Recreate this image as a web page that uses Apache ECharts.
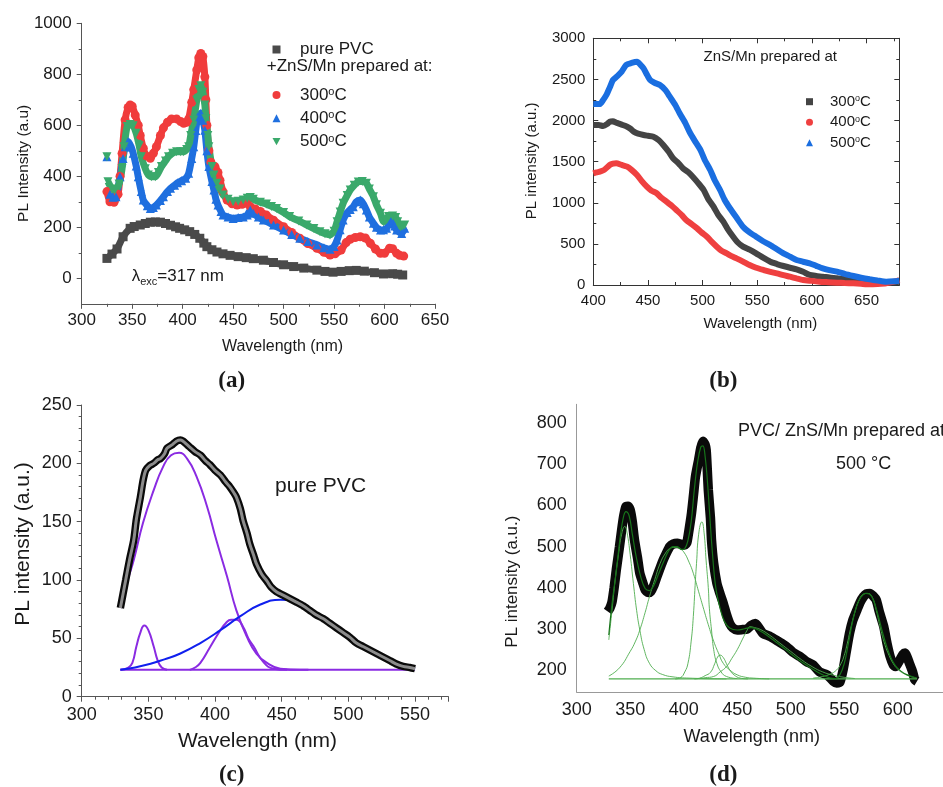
<!DOCTYPE html>
<html>
<head>
<meta charset="utf-8">
<script src="https://cdn.jsdelivr.net/npm/echarts@6/dist/echarts.min.js"></script>
<style>
  html, body { margin: 0; padding: 0; background: #ffffff; }
  #chart { width: 943px; height: 787px; }
</style>
</head>
<body>
<div id="chart"></div>
<script>
// ---------- (a) PL spectra, λexc = 317 nm: [wavelength nm, intensity] ----------
const aPurePVC = [[325,78],[330,95],[335,115],[341,163],[348,196],[352,203],[358,209],[363,215],[368,220],[373,221],[378,220],[383,215],[388,208],[393,202],[397,196],[402,190],[407,183],[412,172],[417,157],[421,138],[424,124],[429,112],[434,103],[440,96],[447,90],[455,85],[463,81],[470,77],[480,71],[490,62],[500,53],[510,46],[520,40],[533,32],[541,27],[549,24],[557,27],[565,30],[572,31],[580,28],[590,22],[599,17],[608,18],[613,16],[618,13]];
const a300 = [[325,340],[328,300],[332,298],[336,330],[338,400],[340,490],[343,621],[346,670],[348,680],[350,675],[353,640],[356,600],[358,560],[361,510],[364,480],[368,471],[371,490],[374,516],[378,560],[381,590],[385,612],[389,625],[394,625],[398,615],[401,608],[404,612],[406,625],[409,690],[411,740],[414,817],[416,865],[418,882],[420,870],[422,790],[423,700],[424,600],[426,500],[428,455],[432,438],[435,415],[437,385],[440,340],[444,307],[449,292],[454,287],[459,290],[464,294],[467,281],[472,272],[477,262],[483,248],[490,228],[500,202],[508,180],[516,157],[524,136],[533,118],[540,102],[546,91],[551,96],[557,111],[562,140],[566,153],[571,160],[576,163],[581,158],[586,137],[591,115],[596,98],[600,98],[605,118],[608,116],[612,98],[615,90],[619,87]];
const a400 = [[325,477],[325.5,'-'],[328,330],[331,318],[334,320],[338,398],[341,470],[343,516],[346,536],[349,515],[351,490],[354,440],[356,398],[359,340],[361,307],[365,285],[368,274],[371,278],[374,287],[378,305],[381,320],[385,340],[388,353],[392,365],[395,375],[399,383],[403,392],[406,412],[409,470],[411,516],[413,580],[415,634],[418,647],[420,620],[422,581],[424,500],[426,438],[429,380],[431,346],[433,310],[435,287],[438,262],[440,248],[445,240],[450,235],[455,238],[460,240],[464,248],[467,268],[470,255],[475,240],[480,229],[490,209],[500,189],[508,172],[516,157],[524,144],[533,131],[540,120],[546,114],[550,125],[553,150],[556,190],[559,229],[563,258],[566,270],[569,281],[572,300],[576,307],[579,292],[582,268],[585,240],[589,216],[592,200],[596,189],[599,190],[602,196],[605,215],[607,229],[610,205],[612,189],[617,176],[620,196]];
const a500 = [[325,477],[325.5,'-'],[326,379],[330,350],[333,346],[337,370],[340,430],[342,516],[345,595],[348,603],[351,598],[354,569],[357,520],[359,477],[363,430],[366,405],[369,398],[373,398],[376,415],[379,438],[383,460],[386,477],[390,490],[394,496],[398,496],[401,496],[404,505],[406,516],[408,560],[411,621],[414,699],[416,740],[418,755],[420,730],[422,680],[423,626],[425,560],[426,516],[429,438],[431,405],[434,373],[437,350],[440,327],[445,310],[450,300],[455,302],[460,307],[464,314],[467,317],[470,310],[477,298],[483,291],[488,282],[493,274],[500,258],[506,242],[515,225],[523,209],[530,195],[536,183],[541,175],[546,170],[550,185],[553,222],[556,260],[559,294],[563,325],[566,346],[570,365],[574,378],[578,380],[582,373],[585,350],[589,320],[592,288],[596,255],[599,222],[601,228],[604,242],[608,244],[611,238],[613,222],[616,202],[618,205],[620,209]];
const aTemps = ['300', '400', '500'];
const aYTicks = [0, 200, 400, 600, 800, 1000];
const aYMinorTicks = [100, 300, 500, 700, 900];

// ---------- (b) ZnS/Mn powders ----------
const b300 = [[400,1946],[405,1945],[409,1934],[413,1960],[415,1986],[418,1990],[421,1974],[426,1950],[431,1925],[434,1900],[437,1865],[441,1840],[446,1824],[450,1815],[455,1804],[460,1760],[464,1703],[469,1620],[473,1541],[478,1480],[482,1419],[487,1370],[491,1317],[496,1240],[501,1155],[505,1050],[510,952],[514,860],[519,770],[523,680],[528,587],[532,520],[537,466],[543,430],[549,385],[555,335],[562,283],[568,255],[574,231],[580,210],[586,191],[592,160],[598,122],[604,110],[610,101],[616,90],[623,81],[630,70],[638,61],[645,50],[653,40],[660,34],[668,28],[675,32],[680,40]];
const b400 = [[400,1358],[403,1370],[406,1378],[410,1400],[415,1459],[418,1475],[421,1480],[426,1460],[431,1439],[435,1400],[440,1338],[444,1270],[449,1196],[453,1150],[458,1115],[462,1065],[467,1013],[472,960],[476,912],[481,850],[485,790],[490,740],[495,689],[499,640],[504,587],[508,530],[513,466],[517,420],[522,385],[526,355],[531,324],[537,285],[543,243],[549,210],[556,182],[562,160],[568,142],[574,120],[580,101],[586,80],[592,61],[600,50],[607,40],[615,34],[623,28],[630,24],[638,20],[645,14],[653,8],[660,12],[668,20],[675,40],[680,61]];
const b500 = [[400,2201],[403,2200],[406,2201],[409,2250],[412,2311],[415,2400],[418,2493],[422,2540],[426,2594],[430,2675],[435,2700],[440,2715],[443,2680],[446,2635],[449,2560],[452,2493],[456,2460],[461,2432],[466,2370],[470,2290],[475,2190],[479,2088],[484,1975],[488,1864],[493,1750],[498,1642],[502,1520],[507,1399],[511,1277],[516,1155],[520,1040],[525,933],[531,820],[537,709],[543,640],[549,587],[555,535],[562,486],[568,435],[574,385],[580,345],[586,304],[592,283],[598,264],[604,233],[610,203],[616,180],[623,162],[630,135],[638,109],[645,88],[653,69],[660,55],[668,40],[675,45],[680,52]];
const bTemps = ['300', '400', '500'];

// ---------- (c) pure PVC with Gaussian components ----------
const cPVC = [[329,76],[331,88],[333,100],[336,118],[339,134],[341,152],[344,171],[346,185],[348,194],[351,198],[354,200],[357,203],[359,204],[362,208],[364,213],[368,216],[371,219],[374,220],[376,219],[379,216],[381,214],[385,210],[389,207],[393,202],[396,199],[400,194],[404,190],[408,184],[411,180],[414,175],[416,171],[419,161],[421,151],[424,140],[426,131],[429,121],[431,114],[435,105],[439,99],[442,94],[446,90],[451,87],[456,84],[461,81],[466,78],[471,74],[476,70],[481,67],[486,63],[491,59],[496,55],[501,51],[506,46],[511,43],[516,40],[521,37],[526,34],[531,31],[536,28],[541,26],[546,25],[550,24]];
const cPeak347 = [[329,23],[335,25],[338,29],[341,43],[344,55],[347,61],[350,57],[354,43],[357,31],[360,25],[364,23]];
const cPeak373 = [[329,76],[334,98],[339,117],[346,149],[354,177],[361,197],[367,207],[373,209],[379,204],[386,189],[394,163],[401,134],[409,103],[416,74],[424,51],[431,37],[439,29],[449,24],[464,23],[470,23]];
const cPeak412 = [[381,23],[385,25],[389,29],[396,42],[404,57],[408,63],[412,66],[416,66],[421,60],[425,50],[429,43],[436,30],[444,24],[454,23]];
const cPeak450 = [[329,23],[340,25],[351,28],[362,32],[374,37],[389,46],[404,57],[419,69],[434,79],[449,83],[464,80],[476,71],[490,60],[505,47],[520,37],[535,29],[550,24]];
const cBase = [[329,23],[550,23]];

// ---------- (d) PVC / ZnS:Mn (500 °C) with fitted components ----------
const dData = [[329,342],[331,350],[333,365],[335,400],[337,443],[340,500],[342,540],[344,575],[346,597],[348,598],[350,589],[352,560],[354,516],[357,470],[359,435],[362,410],[364,395],[367,388],[369,390],[372,405],[375,427],[378,448],[381,468],[384,485],[387,500],[390,506],[394,508],[398,505],[401,504],[403,510],[404,524],[407,575],[409,621],[411,670],[414,711],[416,740],[418,756],[420,748],[421,735],[422,690],[423,638],[425,570],[426,516],[428,460],[431,411],[434,385],[437,362],[440,335],[443,313],[446,302],[450,297],[455,298],[459,299],[463,308],[467,313],[471,300],[474,289],[481,281],[488,270],[496,257],[502,243],[509,232],[515,220],[521,212],[527,195],[534,188],[540,172],[543,168],[546,170],[549,200],[552,245],[555,289],[558,320],[562,346],[565,365],[568,378],[571,385],[574,386],[577,380],[580,370],[583,340],[587,305],[590,265],[593,232],[596,212],[598,208],[600,215],[602,224],[605,238],[607,241],[609,230],[611,216],[614,195],[616,176],[618,172]];
const dFit = [[330,285],[333,360],[337,440],[341,530],[344,575],[346,585],[349,575],[352,530],[356,470],[360,425],[364,398],[368,393],[372,405],[376,430],[381,462],[386,490],[390,500],[394,500],[398,493],[401,495],[404,515],[407,560],[410,640],[413,705],[416,742],[418,745],[420,720],[422,665],[424,590],[427,480],[430,400],[434,350],[438,318],[443,302],[450,297],[457,300],[463,303],[470,297],[480,280],[495,250],[510,220],[525,195],[537,180],[542,179],[546,188],[550,215],[554,265],[558,320],[562,358],[566,378],[570,386],[574,384],[578,365],[582,330],[586,290],[590,255],[594,228],[598,210],[603,197],[609,188],[617,181]];
const dPeak345 = [[330,273],[333,345],[336,420],[339,480],[342,530],[345,549],[347,535],[350,480],[353,410],[356,345],[359,297],[363,250],[368,216],[374,198],[380,189],[390,183],[405,180],[440,178]];
const dPeak390 = [[330,185],[340,205],[350,245],[355,270],[359,297],[364,340],[368,378],[373,420],[378,459],[383,484],[387,495],[392,498],[396,495],[400,487],[405,462],[409,435],[414,390],[418,354],[423,310],[428,270],[433,238],[437,216],[443,200],[450,188],[458,182],[465,180],[480,178]];
const dPeak417 = [[392,178],[397,181],[401,195],[404,216],[407,270],[409,330],[411,420],[412,459],[414,530],[417,560],[419,535],[421,465],[423,400],[424,350],[426,297],[428,250],[431,216],[435,195],[440,184],[450,179]];
const dPeak433 = [[410,178],[415,180],[420,186],[425,194],[429,215],[431,228],[434,236],[437,230],[440,215],[443,200],[447,188],[453,180],[460,178]];
const dPeak465 = [[415,179],[420,181],[428,184],[434,195],[440,208],[445,228],[450,249],[455,275],[459,295],[462,305],[466,303],[472,298],[480,285],[490,265],[500,245],[510,225],[520,208],[530,195],[540,187],[550,182],[560,179]];
const dPeak573 = [[521,180],[530,184],[537,190],[543,200],[547,215],[550,235],[553,265],[556,300],[560,340],[564,370],[568,384],[572,386],[576,378],[580,345],[584,300],[588,262],[592,235],[596,215],[600,202],[605,192],[612,184],[618,180]];
const dBase = [[330,178],[618,178]];
const dXTicks = [300, 350, 400, 450, 500, 550, 600];
const dYTicks = [200, 300, 400, 500, 600, 700, 800];

// ---------- styling ----------
const SANS = '"Liberation Sans", Arial, sans-serif';
const SERIF = '"Liberation Serif", "Times New Roman", serif';
const INK = '#1a1a1a';
const COL = {
  aGray: '#4a4a4a', aRed: '#f03c3c', aBlue: '#1f6fdf', aGreen: '#3aa96b',
  bGray: '#444444', bRed: '#ef4040', bBlue: '#1a6ee0',
  cBlack: '#0a0a0a', cFit: '#8c8c8c', cViolet: '#8a2be2', cBlue: '#1020ee',
  dBlack: '#0a0a0a', dFit: '#17731a', dComp: '#4fae4f'
};
const DOWN_TRIANGLE = 'path://M0,0L10,0L5,9Z';
const plain = v => String(v);

function line(name, data, xi, yi, color, width, extra) {
  return Object.assign({
    type: 'line', name: name, data: data, xAxisIndex: xi, yAxisIndex: yi,
    showSymbol: false, symbol: 'none', silent: true, smooth: 0.3,
    lineStyle: { color: color, width: width }, itemStyle: { color: color },
    emphasis: { disabled: true }
  }, extra || {});
}
function markerLine(name, data, color, symbol) {
  return line(name, data, 0, 0, color, 7, {
    showSymbol: true, symbol: symbol, symbolSize: 9, smooth: 0.2
  });
}

function axisBase(color) {
  return {
    type: 'value', splitLine: { show: false },
    axisLine: { show: true, onZero: false, lineStyle: { color: color, width: 1 } },
    axisTick: { show: true, length: 5, lineStyle: { color: color } },
    axisLabel: { color: INK, fontFamily: SANS, formatter: plain }
  };
}
function merge(a, b) {
  const out = Object.assign({}, a);
  for (const k in b) {
    if (b[k] && typeof b[k] === 'object' && !Array.isArray(b[k]) && a[k] && typeof a[k] === 'object') {
      out[k] = merge(a[k], b[k]);
    } else out[k] = b[k];
  }
  return out;
}

function text(x, y, str, size, opt) {
  opt = opt || {};
  const align = opt.align || 'center';
  return {
    type: 'text', x: x, y: y, rotation: opt.rot || 0, silent: true,
    style: {
      text: str, fontSize: size, fontFamily: opt.family || SANS,
      fontWeight: opt.weight || 'normal', fill: INK,
      align: align, textAlign: align, verticalAlign: 'middle', textVerticalAlign: 'middle',
      rich: opt.rich
    }
  };
}

function legendRich(size, lead) {
  return {
    f: { fontSize: size, lineHeight: size, fontFamily: SANS, color: INK, padding: [0, 0, 0, lead], verticalAlign: 'bottom' },
    t: { fontSize: size, lineHeight: size, fontFamily: SANS, color: INK, verticalAlign: 'bottom' },
    s: { fontSize: Math.round(size * 0.62), lineHeight: Math.round(size * 0.62), fontFamily: SANS, color: INK, verticalAlign: 'top' }
  };
}
const degreeLabel = t => '{f|' + t + '}{s|o}{t|C}';

const chart = echarts.init(document.getElementById('chart'), null, { renderer: 'canvas' });

const grids = [
  { left: 81.7, top: 23.3, width: 353.3, height: 280.5, outerBoundsMode: 'none', containLabel: false },
  { left: 593.3, top: 38.3, width: 306, height: 246.7, outerBoundsMode: 'none', containLabel: false },
  { left: 81.7, top: 405, width: 366.7, height: 291.7, outerBoundsMode: 'none', containLabel: false },
  { left: 576.7, top: 404.3, width: 365.9, height: 287.8, outerBoundsMode: 'none', containLabel: false }
];

const xAxes = [
  // (a)
  merge(axisBase('#555'), {
    gridIndex: 0, min: 300, max: 650, interval: 50,
    minorTick: { show: true, splitNumber: 2, length: 3, lineStyle: { color: '#555' } },
    axisLabel: { fontSize: 17, margin: 8 }
  }),
  // (b) bottom
  merge(axisBase('#333'), {
    gridIndex: 1, min: 400, max: 680, interval: 50,
    axisTick: { inside: true, length: 5 },
    minorTick: { show: true, splitNumber: 2, length: 3, lineStyle: { color: '#333' } },
    axisLabel: { fontSize: 15, margin: 8, showMaxLabel: false }
  }),
  // (b) top frame
  merge(axisBase('#333'), {
    gridIndex: 1, position: 'top', min: 400, max: 680, interval: 50,
    axisTick: { inside: true, length: 5 },
    minorTick: { show: true, splitNumber: 2, length: 3, lineStyle: { color: '#333' } },
    axisLabel: { show: false }
  }),
  // (c)
  merge(axisBase('#555'), {
    gridIndex: 2, min: 300, max: 575, interval: 50,
    minorTick: { show: true, splitNumber: 5, length: 3, lineStyle: { color: '#555' } },
    axisLabel: { fontSize: 18, margin: 9, showMaxLabel: false }
  }),
  // (d)
  merge(axisBase('#999'), {
    gridIndex: 3, min: 300, max: 642, interval: 50,
    axisTick: { show: false },
    axisLabel: { fontSize: 18, margin: 9, customValues: dXTicks }
  })
];

const yAxes = [
  // (a) main
  merge(axisBase('#555'), {
    gridIndex: 0, position: 'left', min: -100, max: 1000, interval: 100,
    axisTick: { customValues: aYTicks },
    axisLabel: { fontSize: 17, margin: 10, customValues: aYTicks }
  }),
  // (a) minor ticks
  merge(axisBase('#555'), {
    gridIndex: 0, position: 'left', offset: 0, min: -100, max: 1000, interval: 100,
    axisLine: { show: false },
    axisTick: { customValues: aYMinorTicks, length: 3 },
    axisLabel: { show: false }
  }),
  // (b) left
  merge(axisBase('#333'), {
    gridIndex: 1, position: 'left', min: 0, max: 3000, interval: 500,
    axisTick: { inside: true, length: 5 },
    minorTick: { show: true, splitNumber: 2, length: 3, lineStyle: { color: '#333' } },
    axisLabel: { fontSize: 15, margin: 8 }
  }),
  // (b) right frame
  merge(axisBase('#333'), {
    gridIndex: 1, position: 'right', min: 0, max: 3000, interval: 500,
    axisTick: { inside: true, length: 5 },
    minorTick: { show: true, splitNumber: 2, length: 3, lineStyle: { color: '#333' } },
    axisLabel: { show: false }
  }),
  // (c)
  merge(axisBase('#555'), {
    gridIndex: 2, position: 'left', min: 0, max: 250, interval: 50,
    minorTick: { show: true, splitNumber: 5, length: 3, lineStyle: { color: '#555' } },
    axisLabel: { fontSize: 18, margin: 10 }
  }),
  // (d)
  merge(axisBase('#999'), {
    gridIndex: 3, position: 'left', min: 146, max: 846, interval: 100,
    axisTick: { show: false },
    axisLabel: { fontSize: 18, margin: 10, customValues: dYTicks }
  })
];

const series = [
  // (a)
  markerLine('pure PVC', aPurePVC, COL.aGray, 'rect'),
  markerLine('a300', a300, COL.aRed, 'circle'),
  markerLine('a400', a400, COL.aBlue, 'triangle'),
  markerLine('a500', a500, COL.aGreen, DOWN_TRIANGLE),
  // (b)
  line('b300', b300, 1, 2, COL.bGray, 6, { smooth: 0.2 }),
  line('b400', b400, 1, 2, COL.bRed, 6, { smooth: 0.2 }),
  line('b500', b500, 1, 2, COL.bBlue, 6, { smooth: 0.2 }),
  // (c) components beneath, then measured band and fit
  line('c-base', cBase, 3, 4, COL.cViolet, 2, { smooth: false }),
  line('c-347', cPeak347, 3, 4, COL.cViolet, 2, { smooth: 0.5 }),
  line('c-373', cPeak373, 3, 4, COL.cViolet, 2, { smooth: 0.5 }),
  line('c-412', cPeak412, 3, 4, COL.cViolet, 2, { smooth: 0.5 }),
  line('c-450', cPeak450, 3, 4, COL.cBlue, 2, { smooth: 0.5 }),
  line('c-data', cPVC, 3, 4, COL.cBlack, 7.5, { smooth: 0.2 }),
  line('c-fit', cPVC, 3, 4, COL.cFit, 3, { smooth: 0.4 }),
  // (d) measured band, then fit and components on top
  line('d-data', dData, 4, 5, COL.dBlack, 9.5, { smooth: 0.2 }),
  line('d-base', dBase, 4, 5, COL.dComp, 1.2, { smooth: false }),
  line('d-345', dPeak345, 4, 5, COL.dComp, 0.9, { smooth: 0.5 }),
  line('d-390', dPeak390, 4, 5, COL.dComp, 0.9, { smooth: 0.5 }),
  line('d-417', dPeak417, 4, 5, COL.dComp, 0.9, { smooth: 0.5 }),
  line('d-433', dPeak433, 4, 5, COL.dComp, 0.9, { smooth: 0.5 }),
  line('d-465', dPeak465, 4, 5, COL.dComp, 0.9, { smooth: 0.5 }),
  line('d-573', dPeak573, 4, 5, COL.dComp, 0.9, { smooth: 0.5 }),
  line('d-fit', dFit, 4, 5, COL.dFit, 1.2, { smooth: 0.4 })
];

const legends = [
  {
    data: [{ name: 'pure PVC', icon: 'rect' }],
    left: 267.5, top: 36, orient: 'vertical', itemWidth: 8, itemHeight: 8,
    selectedMode: false, formatter: n => '{f|' + n + '}',
    textStyle: { rich: legendRich(17, 14.5) }
  },
  {
    data: [
      { name: 'a300', icon: 'circle' },
      { name: 'a400', icon: 'triangle' },
      { name: 'a500', icon: DOWN_TRIANGLE }
    ],
    left: 267.5, top: 81.5, orient: 'vertical', itemWidth: 8, itemHeight: 8, itemGap: 6.3,
    selectedMode: false, formatter: n => degreeLabel(aTemps[['a300', 'a400', 'a500'].indexOf(n)]),
    textStyle: { rich: legendRich(17, 14.5) }
  },
  {
    data: [
      { name: 'b300', icon: 'rect' },
      { name: 'b400', icon: 'circle' },
      { name: 'b500', icon: 'triangle' }
    ],
    left: 801, top: 89.2, orient: 'vertical', itemWidth: 7, itemHeight: 7, itemGap: 5.5,
    selectedMode: false, formatter: n => degreeLabel(bTemps[['b300', 'b400', 'b500'].indexOf(n)]),
    textStyle: { rich: legendRich(15, 12) }
  }
];

const graphics = [
  // axis titles
  text(282.5, 346.7, 'Wavelength (nm)', 16),
  text(23.3, 163.3, 'PL Intensity (a.u)', 15.5, { rot: Math.PI / 2 }),
  text(760.3, 324, 'Wavelength (nm)', 15),
  text(531.7, 160.8, 'PL intensity (a.u.)', 15, { rot: Math.PI / 2 }),
  text(257.5, 741.7, 'Wavelength (nm)', 21),
  text(23.3, 544, 'PL intensity (a.u.)', 21, { rot: Math.PI / 2 }),
  text(751.7, 737.3, 'Wavelength (nm)', 18),
  text(512.3, 581.7, 'PL intensity (a.u.)', 17, { rot: Math.PI / 2 }),
  // panel letters
  text(231.7, 380.7, '(a)', 23, { family: SERIF, weight: 'bold' }),
  text(723.3, 380.7, '(b)', 23, { family: SERIF, weight: 'bold' }),
  text(231.7, 775, '(c)', 23, { family: SERIF, weight: 'bold' }),
  text(723.3, 775, '(d)', 23, { family: SERIF, weight: 'bold' }),
  // annotations
  text(266.7, 66.7, '+ZnS/Mn prepared at:', 17, { align: 'left' }),
  text(131.7, 276, '{m|λ}{sub|exc}{m|=317 nm}', 17, {
    align: 'left',
    rich: {
      m: { fontSize: 17, lineHeight: 17, fontFamily: SANS, fill: INK, verticalAlign: 'top' },
      sub: { fontSize: 11, lineHeight: 11, fontFamily: SANS, fill: INK, verticalAlign: 'bottom', padding: [0, 0, -3, 0] }
    }
  }),
  text(770.3, 56.7, 'ZnS/Mn prepared at', 15),
  text(275, 486.7, 'pure PVC', 21, { align: 'left' }),
  text(738, 430.7, 'PVC/ ZnS/Mn prepared at', 18, { align: 'left' }),
  text(863.7, 464, '500 °C', 18)
];

chart.setOption({
  animation: false,
  backgroundColor: '#ffffff',
  textStyle: { fontFamily: SANS },
  grid: grids,
  xAxis: xAxes,
  yAxis: yAxes,
  legend: legends,
  series: series,
  graphic: { elements: graphics }
});
</script>
</body>
</html>
